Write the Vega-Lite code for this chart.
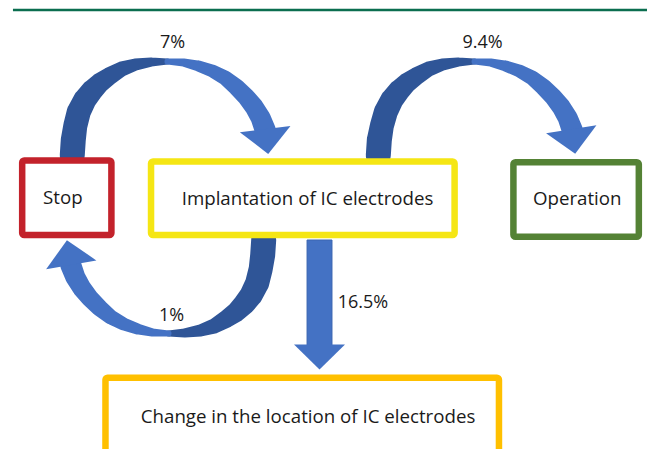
{
  "$schema": "https://vega.github.io/schema/vega-lite/v6.json",
  "width": 649,
  "height": 449,
  "autosize": {"type": "fit", "contains": "padding"},
  "padding": 0,
  "background": "white",
  "config": {"view": {"stroke": null}},
  "datasets": {
    "ribbons": [
      {"arrow": "a1", "part": "a1d", "shade": "dark", "i": 0, "x": 72.5, "y": 155, "w": 25},
      {"arrow": "a1", "part": "a1d", "shade": "dark", "i": 1, "x": 73.5, "y": 140, "w": 25},
      {"arrow": "a1", "part": "a1d", "shade": "dark", "i": 2, "x": 75.5, "y": 126, "w": 24},
      {"arrow": "a1", "part": "a1d", "shade": "dark", "i": 3, "x": 79, "y": 112, "w": 24},
      {"arrow": "a1", "part": "a1d", "shade": "dark", "i": 4, "x": 85, "y": 100, "w": 23},
      {"arrow": "a1", "part": "a1d", "shade": "dark", "i": 5, "x": 92, "y": 91, "w": 22},
      {"arrow": "a1", "part": "a1d", "shade": "dark", "i": 6, "x": 100, "y": 83, "w": 20},
      {"arrow": "a1", "part": "a1d", "shade": "dark", "i": 7, "x": 110, "y": 76, "w": 18},
      {"arrow": "a1", "part": "a1d", "shade": "dark", "i": 8, "x": 122, "y": 69, "w": 15},
      {"arrow": "a1", "part": "a1d", "shade": "dark", "i": 9, "x": 136, "y": 64.5, "w": 12},
      {"arrow": "a1", "part": "a1d", "shade": "dark", "i": 10, "x": 152, "y": 62, "w": 9},
      {"arrow": "a1", "part": "a1d", "shade": "dark", "i": 11, "x": 168, "y": 61.5, "w": 6},
      {"arrow": "a1", "part": "a1l", "shade": "light", "i": 11, "x": 168, "y": 61.5, "w": 6},
      {"arrow": "a1", "part": "a1l", "shade": "light", "i": 12, "x": 184, "y": 62.5, "w": 8},
      {"arrow": "a1", "part": "a1l", "shade": "light", "i": 13, "x": 199, "y": 66, "w": 11},
      {"arrow": "a1", "part": "a1l", "shade": "light", "i": 14, "x": 213, "y": 71, "w": 13},
      {"arrow": "a1", "part": "a1l", "shade": "light", "i": 15, "x": 226, "y": 78, "w": 15},
      {"arrow": "a1", "part": "a1l", "shade": "light", "i": 16, "x": 237, "y": 87, "w": 17},
      {"arrow": "a1", "part": "a1l", "shade": "light", "i": 17, "x": 247, "y": 97, "w": 18},
      {"arrow": "a1", "part": "a1l", "shade": "light", "i": 18, "x": 255, "y": 107, "w": 19},
      {"arrow": "a1", "part": "a1l", "shade": "light", "i": 19, "x": 261.5, "y": 118, "w": 20},
      {"arrow": "a1", "part": "a1l", "shade": "light", "i": 20, "x": 266, "y": 130, "w": 21},

      {"arrow": "a2", "part": "a2d", "shade": "dark", "i": 0, "x": 379.5, "y": 155, "w": 25},
      {"arrow": "a2", "part": "a2d", "shade": "dark", "i": 1, "x": 380.5, "y": 140, "w": 25},
      {"arrow": "a2", "part": "a2d", "shade": "dark", "i": 2, "x": 383, "y": 126, "w": 24},
      {"arrow": "a2", "part": "a2d", "shade": "dark", "i": 3, "x": 387, "y": 112, "w": 24},
      {"arrow": "a2", "part": "a2d", "shade": "dark", "i": 4, "x": 393, "y": 100, "w": 23},
      {"arrow": "a2", "part": "a2d", "shade": "dark", "i": 5, "x": 400, "y": 91, "w": 22},
      {"arrow": "a2", "part": "a2d", "shade": "dark", "i": 6, "x": 408, "y": 83, "w": 20},
      {"arrow": "a2", "part": "a2d", "shade": "dark", "i": 7, "x": 418, "y": 76, "w": 18},
      {"arrow": "a2", "part": "a2d", "shade": "dark", "i": 8, "x": 430, "y": 69, "w": 15},
      {"arrow": "a2", "part": "a2d", "shade": "dark", "i": 9, "x": 444, "y": 64.5, "w": 12},
      {"arrow": "a2", "part": "a2d", "shade": "dark", "i": 10, "x": 460, "y": 62, "w": 9},
      {"arrow": "a2", "part": "a2d", "shade": "dark", "i": 11, "x": 476, "y": 61.5, "w": 6},
      {"arrow": "a2", "part": "a2l", "shade": "light", "i": 11, "x": 476, "y": 61.5, "w": 6},
      {"arrow": "a2", "part": "a2l", "shade": "light", "i": 12, "x": 492, "y": 62.5, "w": 8},
      {"arrow": "a2", "part": "a2l", "shade": "light", "i": 13, "x": 507, "y": 66, "w": 11},
      {"arrow": "a2", "part": "a2l", "shade": "light", "i": 14, "x": 521, "y": 71, "w": 13},
      {"arrow": "a2", "part": "a2l", "shade": "light", "i": 15, "x": 534, "y": 78, "w": 15},
      {"arrow": "a2", "part": "a2l", "shade": "light", "i": 16, "x": 545, "y": 87, "w": 17},
      {"arrow": "a2", "part": "a2l", "shade": "light", "i": 17, "x": 555, "y": 97, "w": 18},
      {"arrow": "a2", "part": "a2l", "shade": "light", "i": 18, "x": 563, "y": 107, "w": 19},
      {"arrow": "a2", "part": "a2l", "shade": "light", "i": 19, "x": 569.5, "y": 118, "w": 20},
      {"arrow": "a2", "part": "a2l", "shade": "light", "i": 20, "x": 574, "y": 130, "w": 21},

      {"arrow": "a3", "part": "a3d", "shade": "dark", "i": 0, "x": 264.5, "y": 240, "w": 25},
      {"arrow": "a3", "part": "a3d", "shade": "dark", "i": 1, "x": 263.5, "y": 255, "w": 25},
      {"arrow": "a3", "part": "a3d", "shade": "dark", "i": 2, "x": 261.5, "y": 269, "w": 24},
      {"arrow": "a3", "part": "a3d", "shade": "dark", "i": 3, "x": 258, "y": 283, "w": 24},
      {"arrow": "a3", "part": "a3d", "shade": "dark", "i": 4, "x": 252, "y": 295, "w": 23},
      {"arrow": "a3", "part": "a3d", "shade": "dark", "i": 5, "x": 245, "y": 304, "w": 22},
      {"arrow": "a3", "part": "a3d", "shade": "dark", "i": 6, "x": 237, "y": 312, "w": 20},
      {"arrow": "a3", "part": "a3d", "shade": "dark", "i": 7, "x": 227, "y": 319, "w": 18},
      {"arrow": "a3", "part": "a3d", "shade": "dark", "i": 8, "x": 215, "y": 326, "w": 15},
      {"arrow": "a3", "part": "a3d", "shade": "dark", "i": 9, "x": 201, "y": 330.5, "w": 12},
      {"arrow": "a3", "part": "a3d", "shade": "dark", "i": 10, "x": 185, "y": 333, "w": 9},
      {"arrow": "a3", "part": "a3d", "shade": "dark", "i": 11, "x": 169, "y": 333.5, "w": 6},
      {"arrow": "a3", "part": "a3l", "shade": "light", "i": 11, "x": 169, "y": 333.5, "w": 6},
      {"arrow": "a3", "part": "a3l", "shade": "light", "i": 12, "x": 153, "y": 332.5, "w": 8},
      {"arrow": "a3", "part": "a3l", "shade": "light", "i": 13, "x": 138, "y": 329, "w": 11},
      {"arrow": "a3", "part": "a3l", "shade": "light", "i": 14, "x": 124, "y": 324, "w": 13},
      {"arrow": "a3", "part": "a3l", "shade": "light", "i": 15, "x": 111, "y": 317, "w": 15},
      {"arrow": "a3", "part": "a3l", "shade": "light", "i": 16, "x": 100, "y": 308, "w": 17},
      {"arrow": "a3", "part": "a3l", "shade": "light", "i": 17, "x": 90, "y": 298, "w": 18},
      {"arrow": "a3", "part": "a3l", "shade": "light", "i": 18, "x": 82, "y": 288, "w": 19},
      {"arrow": "a3", "part": "a3l", "shade": "light", "i": 19, "x": 75.5, "y": 277, "w": 20},
      {"arrow": "a3", "part": "a3l", "shade": "light", "i": 20, "x": 71, "y": 265, "w": 21}
    ],
    "shafts": [
      {"arrow": "a4", "x": 308, "x2": 333, "y": 240, "y2": 346}
    ],
    "heads": [
      {"arrow": "a1", "x": 267.5, "y": 141.5, "ang": 353},
      {"arrow": "a2", "x": 575, "y": 141.5, "ang": 351},
      {"arrow": "a3", "x": 69.3, "y": 252.5, "ang": 170},
      {"arrow": "a4", "x": 320.5, "y": 357, "ang": 0}
    ],
    "boxes": [
      {"box": "Stop", "x": 22.25, "x2": 111.75, "y": 160.5, "y2": 235, "tx": 63, "ty": 198},
      {"box": "Implantation of IC electrodes", "x": 151.5, "x2": 456, "y": 161.5, "y2": 235, "tx": 308.5, "ty": 199},
      {"box": "Operation", "x": 515, "x2": 640.8, "y": 162.2, "y2": 236.8, "tx": 579, "ty": 199},
      {"box": "Change in the location of IC electrodes", "x": 105.8, "x2": 500.5, "y": 377.8, "y2": 470, "tx": 309, "ty": 417}
    ],
    "labels": [
      {"label": "7%", "x": 173, "y": 43},
      {"label": "9.4%", "x": 484, "y": 43},
      {"label": "1%", "x": 172, "y": 316},
      {"label": "16.5%", "x": 364, "y": 303}
    ],
    "topline": [
      {"x": 13, "x2": 649, "y": 10}
    ]
  },
  "layer": [
    {
      "data": {"name": "topline"},
      "mark": {"type": "rule", "color": "#0B6E4F", "strokeWidth": 2.5},
      "encoding": {
        "x": {"field": "x", "type": "quantitative", "scale": {"domain": [0, 649], "nice": false, "zero": false}, "axis": null},
        "x2": {"field": "x2"},
        "y": {"field": "y", "type": "quantitative", "scale": {"domain": [0, 449], "nice": false, "zero": false, "reverse": true}, "axis": null}
      }
    },
    {
      "data": {"name": "ribbons"},
      "mark": {"type": "trail"},
      "encoding": {
        "x": {"field": "x", "type": "quantitative", "axis": null},
        "y": {"field": "y", "type": "quantitative", "axis": null},
        "order": {"field": "i", "type": "quantitative"},
        "detail": {"field": "part"},
        "size": {"field": "w", "type": "quantitative", "scale": null, "legend": null},
        "color": {"field": "shade", "type": "nominal", "scale": {"domain": ["dark", "light"], "range": ["#2F5597", "#4472C4"]}, "legend": null}
      }
    },
    {
      "data": {"name": "shafts"},
      "mark": {"type": "rect", "color": "#4472C4", "stroke": "#3A64B0", "strokeWidth": 1},
      "encoding": {
        "x": {"field": "x", "type": "quantitative", "axis": null},
        "x2": {"field": "x2"},
        "y": {"field": "y", "type": "quantitative", "axis": null},
        "y2": {"field": "y2"}
      }
    },
    {
      "data": {"name": "heads"},
      "mark": {"type": "point", "filled": true, "opacity": 1, "color": "#4472C4", "shape": "M-1,-0.49L1,-0.49L0,0.49Z", "size": 2601},
      "encoding": {
        "x": {"field": "x", "type": "quantitative", "axis": null},
        "y": {"field": "y", "type": "quantitative", "axis": null},
        "angle": {"field": "ang", "type": "quantitative", "scale": null}
      }
    },
    {
      "data": {"name": "boxes"},
      "mark": {"type": "rect", "fill": "white", "strokeWidth": 6.5, "cornerRadius": 2, "clip": true},
      "encoding": {
        "x": {"field": "x", "type": "quantitative", "axis": null},
        "x2": {"field": "x2"},
        "y": {"field": "y", "type": "quantitative", "axis": null},
        "y2": {"field": "y2"},
        "stroke": {"field": "box", "type": "nominal", "scale": {"domain": ["Stop", "Implantation of IC electrodes", "Operation", "Change in the location of IC electrodes"], "range": ["#C3222B", "#F5E614", "#548235", "#FFC000"]}, "legend": null}
      }
    },
    {
      "data": {"name": "boxes"},
      "mark": {"type": "text", "font": "Open Sans", "fontSize": 18.7, "color": "#1A1A1A", "align": "center", "baseline": "middle"},
      "encoding": {
        "x": {"field": "tx", "type": "quantitative", "axis": null},
        "y": {"field": "ty", "type": "quantitative", "axis": null},
        "text": {"field": "box"}
      }
    },
    {
      "data": {"name": "labels"},
      "mark": {"type": "text", "font": "Open Sans", "fontSize": 18, "color": "#1A1A1A", "align": "center", "baseline": "middle"},
      "encoding": {
        "x": {"field": "x", "type": "quantitative", "axis": null},
        "y": {"field": "y", "type": "quantitative", "axis": null},
        "text": {"field": "label"}
      }
    }
  ]
}
